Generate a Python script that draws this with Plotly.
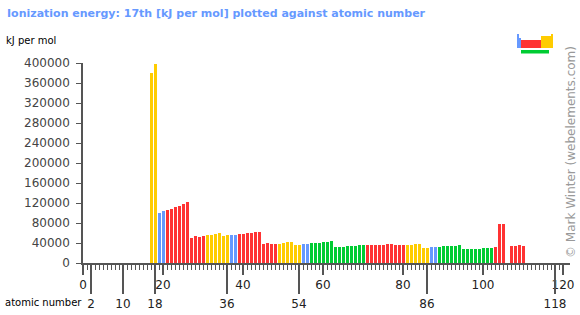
import plotly.graph_objects as go

# ---- data ----
atomic_numbers = list(range(17, 111))
ie17 = [
    380000, 397605, 99100, 103100, 105100, 107100, 111100, 113200, 117200, 121200,   # 17-26
    50900, 54900, 52900, 54900, 56900, 56900, 58900, 60900, 54900, 56900,            # 27-36
    56900, 56900, 58900, 58900, 60900, 60900, 62900, 62900, 38800, 40800,            # 37-46
    38800, 38800, 38800, 40800, 42800, 42800, 36800, 36800, 38800, 38800,            # 47-56
    40800, 40800, 40800, 42800, 42800, 44800, 32800, 32800, 32800, 34800,            # 57-66
    34800, 34800, 36800, 36800, 36800, 36800, 36800, 36800, 36800, 38800,            # 67-76
    38800, 36800, 36800, 36800, 36800, 36800, 38800, 38800, 30800, 30800,            # 77-86
    32800, 32800, 32800, 34800, 34800, 34800, 34800, 36800, 28700, 28700,            # 87-96
    28700, 28700, 28700, 30800, 30800, 30800, 32800, 79000, 79000, None,             # 97-106
    34800, 34800, 36800, 34800,                                                      # 107-110
]
blocks = (
    ["p", "p", "s", "s"] + ["d"] * 10 + ["p"] * 6 +
    ["s", "s"] + ["d"] * 10 + ["p"] * 6 +
    ["s", "s"] + ["f"] * 14 + ["d"] * 10 + ["p"] * 6 +
    ["s", "s"] + ["f"] * 14 + ["d"] * 8
)
block_colors = {"s": "#6699ff", "p": "#ffcc00", "d": "#ff3333", "f": "#00cc33"}

y_ticks = list(range(0, 400001, 40000))
y_ticktext = [str(v) for v in y_ticks]
x_ticks = list(range(0, 121, 10))
x_ticktext = [str(v) if v % 20 == 0 else "" for v in x_ticks]
minor_ticks = list(range(0, 121))
noble_gases = [2, 10, 18, 36, 54, 86, 118]

title_text = "Ionization energy: 17th [kJ per mol] plotted against atomic number"
unit_text = "kJ per mol"
xlabel_text = "atomic number"
credit_text = "© Mark Winter (webelements.com)"

# ---- layout geometry ----
W, H = 580, 315
L, R, T, B = 83, 10, 63, 52
PW, PH = W - L - R, H - T - B
XMAX = PW / 4.0


def px(xp):
    return (xp - L) / PW


def py(yp):
    return (H - B - yp) / PH


axis_col = "#555555"
font_fam = "DejaVu Sans"

fig = go.Figure()
fig.add_trace(go.Bar(
    x=atomic_numbers, y=ie17, width=0.75,
    marker=dict(color=[block_colors[b] for b in blocks], line=dict(width=0)),
    showlegend=False,
))
fig.add_trace(go.Scatter(x=[None], y=[None], xaxis="x2", showlegend=False))

# periodic-table icon
icon = [
    (517, 34, 519, 48, "s"), (519, 38, 521, 48, "s"),
    (521, 40, 541, 48, "d"),
    (541, 36, 551, 48, "p"), (551, 34, 553, 48, "p"),
    (521, 50, 549, 53.5, "f"),
]
shapes = []
for x0, y0, x1, y1, b in icon:
    shapes.append(dict(type="rect", xref="paper", yref="paper",
                       x0=px(x0), x1=px(x1), y0=py(y1), y1=py(y0),
                       fillcolor=block_colors[b], line=dict(width=0)))

annotations = [
    dict(text="<b>" + title_text + "</b>", xref="paper", yref="paper",
         x=px(5), y=py(14), xanchor="left", yanchor="middle", showarrow=False,
         font=dict(family=font_fam, size=11, color="#6699ff")),
    dict(text=unit_text, xref="paper", yref="paper",
         x=px(4), y=py(40), xanchor="left", yanchor="middle", showarrow=False,
         font=dict(family=font_fam, size=10, color="#000000")),
    dict(text=xlabel_text, xref="paper", yref="paper",
         x=px(3), y=py(302), xanchor="left", yanchor="middle", showarrow=False,
         font=dict(family=font_fam, size=10, color="#000000")),
    dict(text=credit_text, xref="paper", yref="paper", textangle=-90,
         x=px(571), y=py(152), xanchor="center", yanchor="middle", showarrow=False,
         font=dict(family=font_fam, size=12, color="#999999")),
]

fig.update_layout(
    width=W, height=H,
    margin=dict(l=L, r=R, t=T, b=B, autoexpand=False),
    paper_bgcolor="white", plot_bgcolor="white",
    bargap=0,
    font=dict(family=font_fam, size=12, color="#444444"),
    shapes=shapes, annotations=annotations,
    xaxis=dict(
        range=[0, XMAX], showgrid=False, zeroline=False, automargin=False,
        showline=True, linecolor=axis_col, linewidth=2,
        tickmode="array", tickvals=x_ticks, ticktext=x_ticktext,
        ticks="outside", ticklen=10, tickwidth=1.5, tickcolor=axis_col,
        tickfont=dict(family=font_fam, size=12, color="#222222"),
        minor=dict(tickmode="array", tickvals=minor_ticks, ticks="outside",
                   ticklen=5, tickwidth=1, tickcolor=axis_col, showgrid=False),
        fixedrange=True,
    ),
    xaxis2=dict(
        overlaying="x", anchor="y", side="bottom", automargin=False,
        range=[0, XMAX], showgrid=False, zeroline=False, showline=False,
        tickmode="array", tickvals=noble_gases,
        ticktext=[str(v) for v in noble_gases],
        ticks="outside", ticklen=30, tickwidth=1.5, tickcolor=axis_col,
        tickfont=dict(family=font_fam, size=12, color="#222222"),
        fixedrange=True,
    ),
    yaxis=dict(
        range=[0, 400000], showgrid=False, zeroline=False, automargin=False,
        showline=True, linecolor=axis_col, linewidth=1.5,
        tickmode="array", tickvals=y_ticks, ticktext=y_ticktext,
        ticks="outside", ticklen=5, tickwidth=1, tickcolor=axis_col,
        ticklabelstandoff=4,
        tickfont=dict(family=font_fam, size=12, color="#444444"),
        fixedrange=True,
    ),
)

fig.write_html("out.html", config={"displayModeBar": False})
